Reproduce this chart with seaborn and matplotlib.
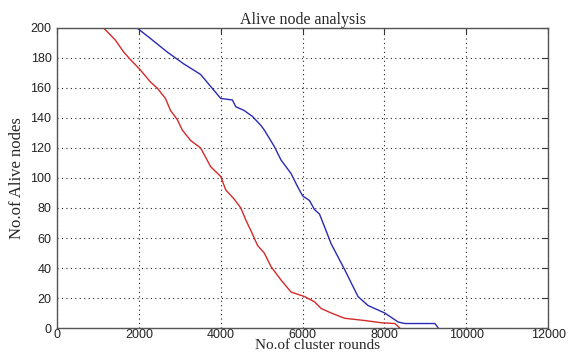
import matplotlib
matplotlib.use("Agg")
import matplotlib.pyplot as plt
import seaborn as sns
import pandas as pd

# Values
red_rounds = [1137, 1423, 1627, 1791, 2037, 2282, 2446, 2650, 2773, 2937, 3060, 3264,
              3509, 3755, 4000, 4123, 4327, 4491, 4613, 4736, 4900, 5064, 5227, 5473,
              5718, 6045, 6290, 6454, 6700, 7027, 7518, 7926, 8254, 8377]
red_alive = [200, 192, 184, 179, 172, 164, 160, 153, 145, 139, 132, 125,
             120, 107.5, 101, 92, 86, 80, 72, 65, 55, 50, 41, 32,
             24, 21, 17.5, 13, 10, 6.5, 5, 3.5, 3, 0]

blue_rounds = [1955, 2282, 2691, 3100, 3509, 3755, 4000, 4286, 4368, 4572, 4777, 4982,
               5064, 5309, 5473, 5718, 5882, 6004, 6168, 6290, 6413, 6536, 6700, 6864,
               7027, 7190, 7354, 7600, 8008, 8336, 8499, 9235, 9317]
blue_alive = [200, 193, 184, 176, 169, 161, 153, 152, 147.5, 145, 141, 135,
              132, 121, 112, 103, 94, 88, 85, 79, 76, 67.5, 56, 47.5,
              39, 30, 21, 15, 10, 4, 3, 3, 0]

x_ticks = [0, 2000, 4000, 6000, 8000, 10000, 12000]
y_ticks = [0, 20, 40, 60, 80, 100, 120, 140, 160, 180, 200]

sns.set_style("white")
plt.rcParams['font.family'] = ['Liberation Sans', 'DejaVu Sans']

red_df = pd.DataFrame({'rounds': red_rounds, 'alive': red_alive})
blue_df = pd.DataFrame({'rounds': blue_rounds, 'alive': blue_alive})

fig = plt.figure(figsize=(5.68, 3.54), dpi=100)
ax = fig.add_axes([0.1004, 0.0734, 0.8646, 0.8476])

sns.lineplot(data=red_df, x='rounds', y='alive', color='#d42a2a', lw=1.0, ax=ax)
sns.lineplot(data=blue_df, x='rounds', y='alive', color='#2a2ab4', lw=1.0, ax=ax)

ax.set_xlim(0, 12000)
ax.set_ylim(0, 200)
ax.set_xticks(x_ticks)
ax.set_yticks(y_ticks)
ax.tick_params(direction='in', length=4, width=0.8, top=True, right=True,
               labelsize=9, colors='#333333', labelcolor='#222222')
ax.tick_params(axis='x', pad=1)
ax.tick_params(axis='y', pad=4)
ax.grid(True, linestyle=(0, (1, 3)), color='#222222', lw=0.8)
for s in ax.spines.values():
    s.set_color('#555555')
    s.set_linewidth(1.0)

serif = ['Liberation Serif', 'DejaVu Serif']
ax.set_title('Alive node analysis', family=serif, fontsize=11.5, pad=3)
ax.set_xlabel('No.of cluster rounds', family=serif, fontsize=11)
ax.xaxis.set_label_coords(0.53, -0.036)
ax.set_ylabel('No.of Alive nodes', family=serif, fontsize=12, labelpad=4)

fig.savefig('out.png', dpi=100)
